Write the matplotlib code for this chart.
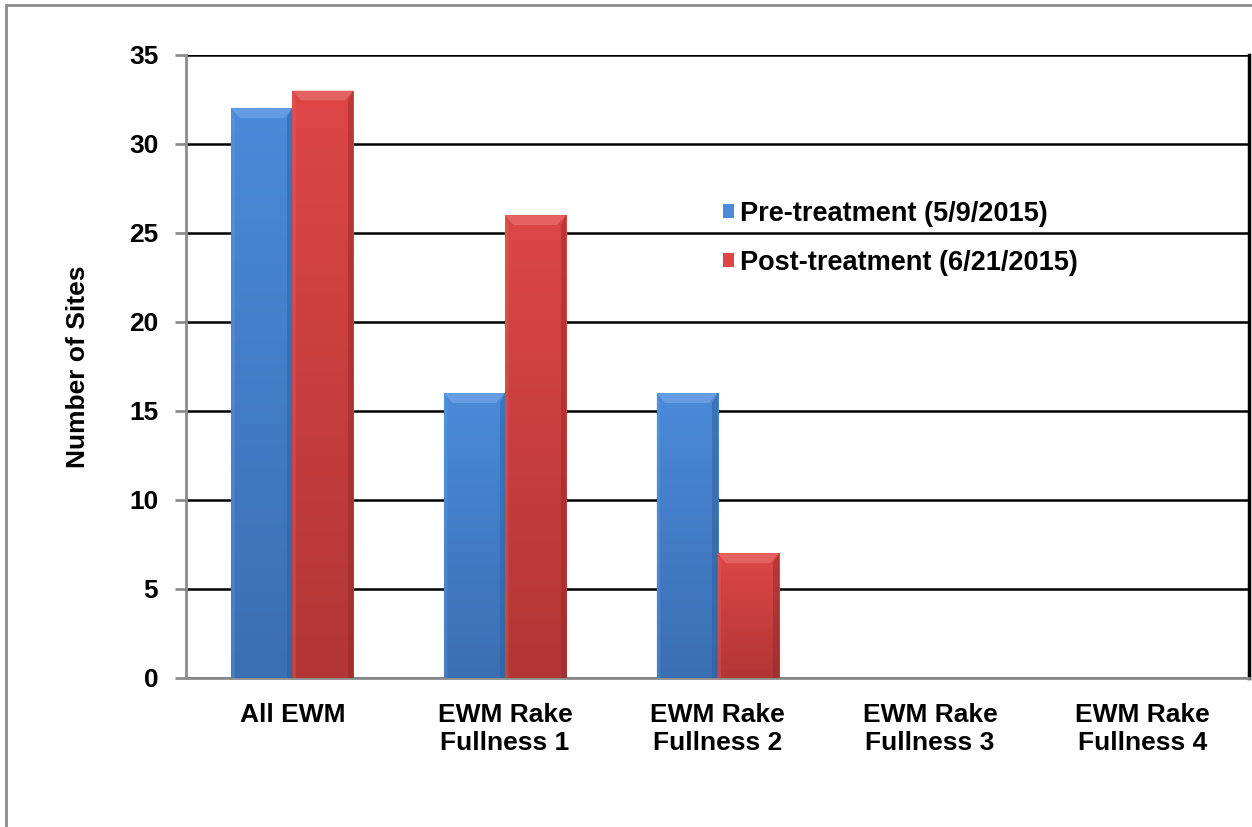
import numpy as np
import matplotlib.pyplot as plt
from matplotlib.patches import Polygon, Rectangle
from matplotlib.colors import LinearSegmentedColormap

categories = ["All EWM", "EWM Rake\nFullness 1", "EWM Rake\nFullness 2",
              "EWM Rake\nFullness 3", "EWM Rake\nFullness 4"]
pre_treatment = [32, 16, 16, 0, 0]
post_treatment = [33, 26, 7, 0, 0]
series_labels = ["Pre-treatment (5/9/2015)", "Post-treatment (6/21/2015)"]

plt.rcParams['font.family'] = ['Liberation Sans', 'DejaVu Sans']
plt.rcParams['font.weight'] = 'bold'

fig = plt.figure(figsize=(12.52, 8.27), dpi=100)
ax = fig.add_axes([0.1486, 0.1802, 0.8490, 0.7533])

# outer chart frame (gray)
fig.patches.append(Rectangle((6 / 1252, -0.2), 1.2, 1 - 4.5 / 827 + 0.2,
                             transform=fig.transFigure, fill=False,
                             edgecolor='#8c8c8c', linewidth=2, zorder=0))

xx = np.arange(len(categories))
w = 0.287

# (top colour, bottom colour, bevel light, bevel dark)
styles = [("#4a8ad8", "#3b6fb3", "#6ea3e6", "#2d5c98"),
          ("#de4646", "#b23636", "#e86a6a", "#8e2828")]


def fancy_bars(xpos, vals, style, label):
    top, bot, light, dark = style
    bars = ax.bar(xpos, vals, w, color=top, label=label, zorder=3,
                  linewidth=0)
    cmap = LinearSegmentedColormap.from_list("g", [top, bot])
    for b in bars:
        x0, h, bw = b.get_x(), b.get_height(), b.get_width()
        if h <= 0:
            continue
        grad = np.linspace(1, 0, 100).reshape(-1, 1)
        im = ax.imshow(grad, cmap=cmap, aspect='auto', zorder=3.1,
                       origin='lower', extent=(x0, x0 + bw, 0, h),
                       interpolation='bicubic')
        im.set_clip_path(b)
        dx, dy = bw * 0.14, 0.55
        # bevel: top light, right dark, left slight light
        ax.add_patch(Polygon([(x0, h), (x0 + bw, h), (x0 + bw - dx, h - dy),
                              (x0 + dx, h - dy)], closed=True,
                             facecolor=light, edgecolor='none', alpha=0.8,
                             zorder=3.2))
        ax.add_patch(Polygon([(x0 + bw, h), (x0 + bw, 0),
                              (x0 + bw - dx * 0.6, 0),
                              (x0 + bw - dx * 0.6, h - dy)], closed=True,
                             facecolor=dark, edgecolor='none', alpha=0.45,
                             zorder=3.2))
        ax.add_patch(Polygon([(x0, h), (x0 + dx * 0.4, h - dy),
                              (x0 + dx * 0.4, 0), (x0, 0)], closed=True,
                             facecolor=light, edgecolor='none', alpha=0.3,
                             zorder=3.2))
    return bars


fancy_bars(xx - w / 2, pre_treatment, styles[0], series_labels[0])
fancy_bars(xx + w / 2, post_treatment, styles[1], series_labels[1])

ax.set_xlim(-0.5, len(categories) - 0.5)
ax.set_ylim(0, 35)
ax.set_yticks(range(0, 36, 5))
ax.set_xticks(xx)
ax.set_xticklabels(categories, fontsize=19, fontweight='bold')
ax.tick_params(axis='x', length=0, pad=18)
ax.tick_params(axis='y', labelsize=19, length=8, width=2, color='#8c8c8c',
               pad=12)
for t in ax.get_yticklabels():
    t.set_fontweight('bold')
ax.yaxis.grid(True, color='black', linewidth=1.8)
ax.set_axisbelow(True)

ax.spines['top'].set_visible(False)
ax.spines['left'].set_color('#8c8c8c')
ax.spines['left'].set_linewidth(2)
ax.spines['bottom'].set_color('#8c8c8c')
ax.spines['bottom'].set_linewidth(2)
ax.spines['right'].set_color('black')
ax.spines['right'].set_linewidth(2.5)

ax.set_ylabel('Number of Sites', fontsize=19, fontweight='bold', labelpad=28)

leg = ax.legend(loc='upper left', bbox_to_anchor=(0.482, 0.805),
                frameon=False, fontsize=19.5, handlelength=0.42,
                handleheight=0.42, handletextpad=0.2, labelspacing=0.85)
for t in leg.get_texts():
    t.set_fontweight('bold')

fig.savefig("out.png", dpi=100)
